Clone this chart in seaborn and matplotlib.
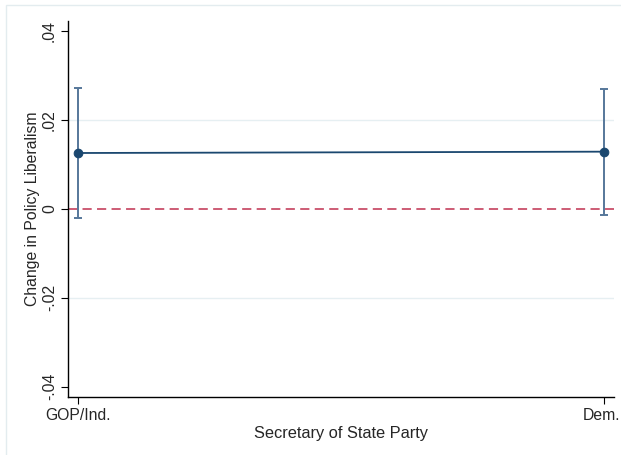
import matplotlib
matplotlib.use("Agg")
import matplotlib.pyplot as plt
import matplotlib.transforms as mtransforms
import seaborn as sns
import pandas as pd
from matplotlib.patches import Rectangle

categories = ["GOP/Ind.", "Dem."]
estimates = [0.0126, 0.0129]
ci_low = [-0.0020, -0.0013]
ci_high = [0.0272, 0.0269]
yticks = [-0.04, -0.02, 0, 0.02, 0.04]
ytick_labels = ["-.04", "-.02", "0", ".02", ".04"]

sns.set_style("white")
plt.rcParams["font.family"] = ["Liberation Sans", "DejaVu Sans"]

fig = plt.figure(figsize=(6.21, 4.55), dpi=100)
fig.patch.set_facecolor("white")
fig.patches.append(Rectangle((6/621, -0.01), 1.0, 1 - 5/455 + 0.01, transform=fig.transFigure,
                             fill=False, edgecolor="#e3ecef", linewidth=1.0))
ax = fig.add_axes([68/621, 1 - 397/455, (614 - 68)/621, (397 - 21)/455])

xpos = list(range(len(categories)))
df = pd.DataFrame({"x": xpos, "est": estimates})

navy = "#1a476f"
for y in [-0.02, 0.02]:
    ax.axhline(y, color="#e6eff2", linewidth=1.0, zorder=0)
ax.axhline(0, color="#c0304f", linewidth=1.1, linestyle=(0, (6, 3.5)), zorder=1)

yerr = [[e - l for e, l in zip(estimates, ci_low)], [h - e for e, h in zip(estimates, ci_high)]]
ax.errorbar(xpos, estimates, yerr=yerr, fmt="none", ecolor="#56779a", elinewidth=1.4,
            capsize=3, capthick=1.4, zorder=2)
sns.lineplot(data=df, x="x", y="est", ax=ax, color=navy, linewidth=1.3, marker="o",
             markersize=6.2, markeredgecolor=navy, zorder=3)

fs = 11.3
ax.set_xlim(-0.019, 1.019)
ax.set_ylim(-0.0423, 0.0423)
ax.set_xticks(xpos)
ax.set_xticklabels(categories, fontsize=fs)
ax.set_yticks(yticks)
ax.set_yticklabels(ytick_labels, fontsize=fs, rotation=90, va="center")
ax.tick_params(axis="both", length=5, width=0.8, color="black", pad=3, direction="out")
ax.tick_params(axis="both", which="both", left=True, bottom=True)
for s in ["top", "right"]:
    ax.spines[s].set_visible(False)
for s in ["left", "bottom"]:
    ax.spines[s].set_color("black")
    ax.spines[s].set_linewidth(1.0)
ax.set_xlabel("Secretary of State Party", fontsize=11.8, labelpad=2)
ax.set_ylabel("Change in Policy Liberalism", fontsize=fs, labelpad=1)

# nudge the last x tick label so it stays inside the canvas
lbl = ax.get_xticklabels()[-1]
lbl.set_transform(lbl.get_transform() + mtransforms.ScaledTranslation(-2.5 / 100, 0, fig.dpi_scale_trans))

fig.savefig("out.png", dpi=100)
